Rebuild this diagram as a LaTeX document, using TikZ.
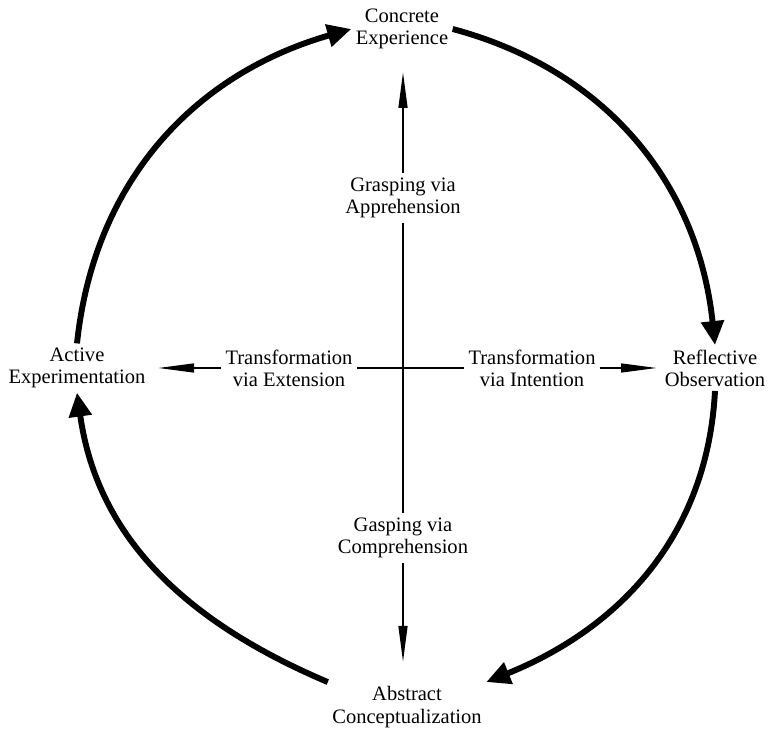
\documentclass[tikz,border=0pt]{standalone}
\usepackage{fontspec}
\setmainfont{Liberation Serif}
\usetikzlibrary{arrows.meta}
\begin{document}
\begin{tikzpicture}[
    x=0.025cm, y=0.025cm,
    stage/.style={align=center, inner sep=3pt,
                  font=\fontsize{14.6pt}{15.8pt}\selectfont},
    cyclearrow/.style={-{Triangle[length=0.6cm, width=0.55cm]}, line width=4.2pt},
    thinarrow/.style={-{Triangle[length=0.9cm, width=0.22cm]}, line width=1.4pt},
    thinline/.style={line width=1.4pt}
]
\useasboundingbox (0,0) rectangle (768,735);
% four stages of the cycle
\node[stage] (CE) at (402,706) {Concrete\\Experience};
\node[stage] (RO) at (715,367) {Reflective\\Observation};
\node[stage] (AC) at (407,28) {Abstract\\Conceptualization};
\node[stage] (AE) at (77,367) {Active\\Experimentation};
% the two axes
\node[stage] (GA) at (403,537) {Grasping via\\Apprehension};
\node[stage] (GC) at (403,197) {Gasping via\\Comprehension};
\node[stage] (TE) at (289,367) {Transformation\\via Extension};
\node[stage] (TI) at (532,367) {Transformation\\via Intention};
\coordinate (top) at (403,663);
\coordinate (bottom) at (403,73);
\coordinate (left) at (158,367);
\coordinate (right) at (657,367);
\draw[thinarrow] (GA) -- (top);
\draw[thinline] (GA) -- (GC);
\draw[thinarrow] (GC) -- (bottom);
\draw[thinarrow] (TE) -- (left);
\draw[thinline] (TE) -- (TI);
\draw[thinarrow] (TI) -- (right);
% outer cycle
\draw[cyclearrow] (CE.east) to[out=-15, in=96] (RO.north);
\draw[cyclearrow] (RO.south) to[out=-93, in=22] (AC.north east);
\draw[cyclearrow] (AC.north west) to[out=157, in=-82] (AE.south);
\draw[cyclearrow] (AE.north) to[out=84, in=196] (CE.west);
\end{tikzpicture}
\end{document}
